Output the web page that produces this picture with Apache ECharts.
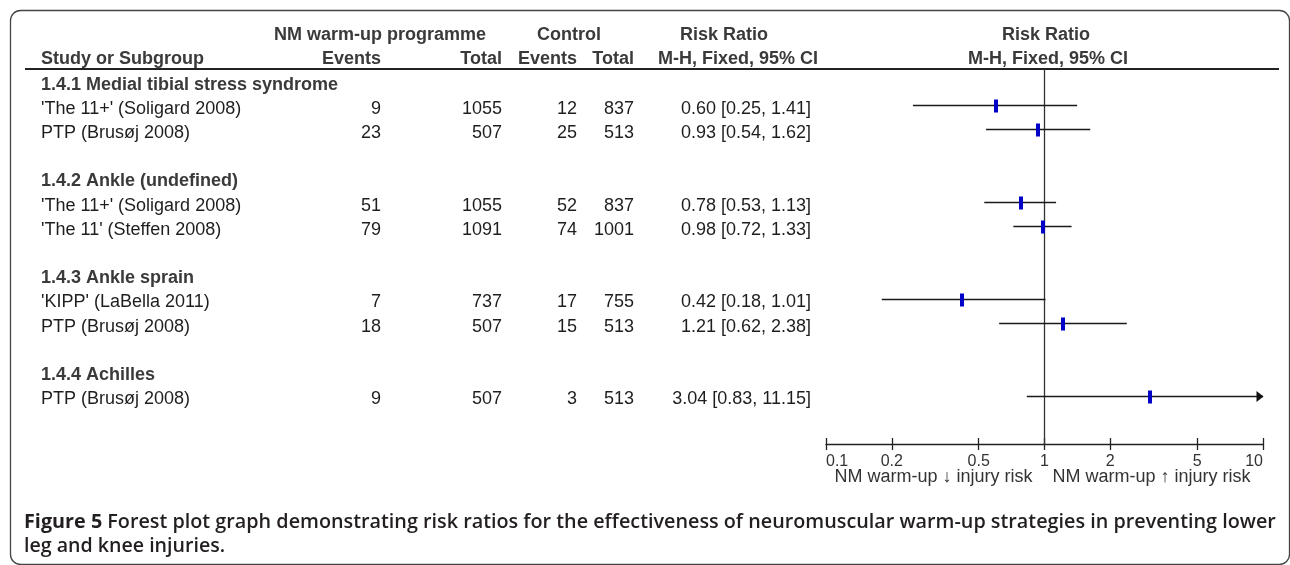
<!DOCTYPE html>
<html><head><meta charset="utf-8">
<script src="https://cdn.jsdelivr.net/npm/echarts@6/dist/echarts.min.js"></script>
<style>html,body{margin:0;padding:0;background:#fff}#c{width:1290px;height:565px}</style>
</head><body><div id="c"></div>
<script>
// ---------------- data ----------------
const groups = ["1.4.1 Medial tibial stress syndrome", "1.4.2 Ankle (undefined)", "1.4.3 Ankle sprain", "1.4.4 Achilles"];
const studies = ["'The 11+' (Soligard 2008)", "PTP (Brusøj 2008)", "'The 11+' (Soligard 2008)", "'The 11' (Steffen 2008)", "'KIPP' (LaBella 2011)", "PTP (Brusøj 2008)", "PTP (Brusøj 2008)"];
const studyGroup = [0, 0, 1, 1, 2, 2, 3];
const nmEvents = [9, 23, 51, 79, 7, 18, 9];
const nmTotal = [1055, 507, 1055, 1091, 737, 507, 507];
const ctrlEvents = [12, 25, 52, 74, 17, 15, 3];
const ctrlTotal = [837, 513, 837, 1001, 755, 513, 513];
const rr = [0.60, 0.93, 0.78, 0.98, 0.42, 1.21, 3.04];
const ciLow = [0.25, 0.54, 0.53, 0.72, 0.18, 0.62, 0.83];
const ciHigh = [1.41, 1.62, 1.13, 1.33, 1.01, 2.38, 11.15];
const tickValues = [0.1, 0.2, 0.5, 1, 2, 5, 10];
const headerTop = ["NM warm-up programme", "Control", "Risk Ratio", "Risk Ratio"];
const headerSub = ["Study or Subgroup", "Events", "Total", "Events", "Total", "M-H, Fixed, 95% CI", "M-H, Fixed, 95% CI"];
const favourLabels = ["NM warm-up \u2193 injury risk", "NM warm-up \u2191 injury risk"];
const captionBold = "Figure 5";
const captionLine1 = " Forest plot graph demonstrating risk ratios for the effectiveness of neuromuscular warm-up strategies in preventing lower";
const captionLine2 = "leg and knee injuries.";

// ---------------- layout ----------------
const FONT = "'Liberation Sans', Arial, sans-serif";
const CAPFONT = "'Open Sans', sans-serif";
const FS = 18;
const TXT = '#1e1e1e';
const HDR = '#3a3a3a';
const COL = { study: 41, nmEv: 381, nmTot: 502, ctEv: 577, ctTot: 634, rr: 811 };
const TEXT_DY = 3.5;
const PLOT_GRID = { left: 826, right: 27, top: 69, bottom: 121 };

// row positions: heading, its studies, then a blank row
const tableRows = [];
const studyRow = [];
let r = 0;
groups.forEach((g, gi) => {
  tableRows.push([r, 'g', gi]); r++;
  studyGroup.forEach((sg, si) => {
    if (sg === gi) { tableRows.push([r, 's', si]); studyRow[si] = r; r++; }
  });
  r++;
});

function txt(x, y, text, align, bold, color, size) {
  return { type: 'text', style: { x: x, y: y, text: text, align: align, verticalAlign: 'middle',
    fontSize: size || FS, fontFamily: FONT, fontWeight: bold ? 'bold' : 'normal', fill: color || TXT } };
}

const chart = echarts.init(document.getElementById('c'));
chart.setOption({
  animation: false,
  backgroundColor: '#fff',
  grid: [
    Object.assign({}, PLOT_GRID),
    { left: 0, right: 0, top: 69, bottom: 121 },
    Object.assign({}, PLOT_GRID)
  ],
  xAxis: [
    { type: 'log', logBase: 10, min: 0.1, max: 10, gridIndex: 0, position: 'bottom',
      axisLine: { show: true, onZero: false, lineStyle: { color: '#222', width: 1.3 } },
      axisTick: { show: true, customValues: tickValues, length: 6, inside: false, lineStyle: { color: '#222', width: 1.3 } },
      axisLabel: { show: true, customValues: tickValues, fontSize: 16, fontFamily: FONT, color: '#333', margin: 10,
        alignMinLabel: 'left', alignMaxLabel: 'right', showMinLabel: true, showMaxLabel: true,
        formatter: v => String(+(+v).toPrecision(3)) },
      splitLine: { show: false }, minorTick: { show: false } },
    { type: 'value', min: 0, max: 1290, gridIndex: 1, show: false },
    { type: 'log', logBase: 10, min: 0.1, max: 10, gridIndex: 2, position: 'bottom',
      axisLine: { show: false, onZero: false },
      axisTick: { show: true, customValues: tickValues, length: 6, inside: true, lineStyle: { color: '#222', width: 1.3 } },
      axisLabel: { show: false }, splitLine: { show: false }, minorTick: { show: false } }
  ],
  yAxis: [
    { type: 'value', inverse: true, min: -0.5, max: 15, gridIndex: 0, show: false },
    { type: 'value', inverse: true, min: -0.5, max: 15, gridIndex: 1, show: false },
    { type: 'value', inverse: true, min: -0.5, max: 15, gridIndex: 2, show: false }
  ],
  series: [
    // table body
    { type: 'custom', xAxisIndex: 1, yAxisIndex: 1, clip: false, silent: true,
      data: tableRows.map(t => [0, t[0]]),
      encode: { x: 0, y: 1 },
      renderItem(params, api) {
        const t = tableRows[params.dataIndex];
        const y = api.coord([0, api.value(1)])[1] + TEXT_DY;
        const X = k => api.coord([COL[k], 0])[0];
        if (t[1] === 'g') {
          return txt(X('study'), y, groups[t[2]], 'left', true, HDR);
        }
        const i = t[2];
        return { type: 'group', children: [
          txt(X('study'), y, studies[i], 'left'),
          txt(X('nmEv'), y, String(nmEvents[i]), 'right'),
          txt(X('nmTot'), y, String(nmTotal[i]), 'right'),
          txt(X('ctEv'), y, String(ctrlEvents[i]), 'right'),
          txt(X('ctTot'), y, String(ctrlTotal[i]), 'right'),
          txt(X('rr'), y, rr[i].toFixed(2) + ' [' + ciLow[i].toFixed(2) + ', ' + ciHigh[i].toFixed(2) + ']', 'right')
        ]};
      }
    },
    // header + rule
    { type: 'custom', xAxisIndex: 1, yAxisIndex: 1, clip: false, silent: true,
      data: [[0, -1.9, -0.9, -0.5]],
      encode: { x: 0, y: [1, 2, 3] },
      renderItem(params, api) {
        const y1 = api.coord([0, api.value(1)])[1];
        const y2 = api.coord([0, api.value(2)])[1];
        const yl = Math.round(api.coord([0, api.value(3)])[1]);
        const X = v => api.coord([v, 0])[0];
        return { type: 'group', children: [
          txt(X(380), y1, headerTop[0], 'center', true, HDR),
          txt(X(569), y1, headerTop[1], 'center', true, HDR),
          txt(X(724), y1, headerTop[2], 'center', true, HDR),
          txt(X(1046), y1, headerTop[3], 'center', true, HDR),
          txt(X(COL.study), y2, headerSub[0], 'left', true, HDR),
          txt(X(COL.nmEv), y2, headerSub[1], 'right', true, HDR),
          txt(X(COL.nmTot), y2, headerSub[2], 'right', true, HDR),
          txt(X(COL.ctEv), y2, headerSub[3], 'right', true, HDR),
          txt(X(COL.ctTot), y2, headerSub[4], 'right', true, HDR),
          txt(X(818), y2, headerSub[5], 'right', true, HDR),
          txt(X(1048), y2, headerSub[6], 'center', true, HDR),
          { type: 'line', shape: { x1: X(25), y1: yl, x2: X(1279), y2: yl }, style: { stroke: '#222', lineWidth: 2 } }
        ]};
      }
    },
    // forest marks
    { type: 'custom', xAxisIndex: 0, yAxisIndex: 0, clip: false, silent: true, z: 5,
      data: rr.map((v, i) => [studyRow[i], v, ciLow[i], ciHigh[i]]),
      encode: { x: [1, 2, 3], y: 0 },
      renderItem(params, api) {
        const yv = api.value(0), m = api.value(1), lo = api.value(2), hi = api.value(3);
        const pLo = api.coord([Math.max(lo, 0.1), yv]);
        const pHi = api.coord([Math.min(hi, 10), yv]);
        const pM = api.coord([m, yv]);
        const yy = Math.round(pLo[1]) + 0.5;
        const ch = [{ type: 'line', shape: { x1: pLo[0], y1: yy, x2: pHi[0], y2: yy }, style: { stroke: '#1a1a1a', lineWidth: 1.4 } }];
        if (hi > 10) {
          ch.push({ type: 'polygon', shape: { points: [[pHi[0] + 0.5, yy], [pHi[0] - 6.5, yy - 5.5], [pHi[0] - 6.5, yy + 5.5]] }, style: { fill: '#111' } });
        }
        ch.push({ type: 'rect', shape: { x: Math.round(pM[0]) - 2, y: yy - 6, width: 4, height: 13 }, style: { fill: '#0000C8' } });
        return { type: 'group', children: ch };
      },
      markLine: { silent: true, symbol: 'none', label: { show: false },
        lineStyle: { color: '#333', width: 1.3, type: 'solid' },
        data: [{ xAxis: 1 }] }
    },
    // favour labels under axis
    { type: 'custom', xAxisIndex: 0, yAxisIndex: 0, clip: false, silent: true,
      data: [[1, 15]],
      encode: { x: 0, y: 1 },
      renderItem(params, api) {
        const p = api.coord([api.value(0), api.value(1)]);
        return { type: 'group', children: [
          txt(p[0] - 12, p[1] + 33, favourLabels[0], 'right', false, '#333', 18),
          txt(p[0] + 8, p[1] + 33, favourLabels[1], 'left', false, '#333', 18)
        ]};
      }
    }
  ],
  graphic: [
    { type: 'rect', shape: { x: 10.5, y: 10.5, width: 1279, height: 554, r: 10 }, style: { fill: 'none', stroke: '#444', lineWidth: 1.3 }, silent: true },
    { type: 'text', left: 24, top: 512, silent: true,
      style: { text: '{b|' + captionBold + '}{n|' + captionLine1 + '}',
        rich: { b: { fontFamily: CAPFONT, fontWeight: 'bold', fontSize: 19.8, fill: '#231f20' },
                n: { fontFamily: CAPFONT, fontWeight: 600, fontSize: 19.8, fill: '#231f20' } } } },
    { type: 'text', left: 24, top: 536, silent: true,
      style: { text: captionLine2, fontFamily: CAPFONT, fontWeight: 600, fontSize: 19.6, fill: '#231f20' } }
  ]
});
</script>
</body></html>
